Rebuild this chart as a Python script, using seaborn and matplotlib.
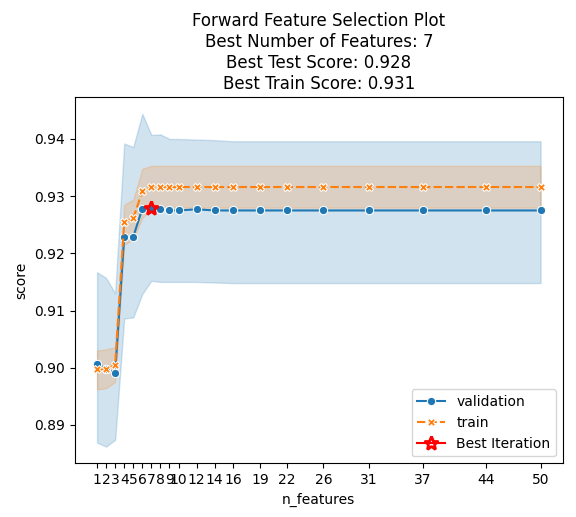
import matplotlib
matplotlib.use("Agg")
import matplotlib.pyplot as plt
from matplotlib.lines import Line2D
import seaborn as sns
import pandas as pd

n_features = [1, 2, 3, 4, 5, 6, 7, 8, 9, 10, 12, 14, 16, 19, 22, 26, 31, 37, 44, 50]
val_score = [0.9007, 0.8998, 0.8991, 0.9229, 0.9229, 0.9278, 0.9280, 0.9277, 0.9275, 0.9275,
             0.9277, 0.9275, 0.9275, 0.9275, 0.9275, 0.9275, 0.9275, 0.9275, 0.9275, 0.9275]
val_lo = [0.8869, 0.8862, 0.8874, 0.9086, 0.9088, 0.9129, 0.9152, 0.9150, 0.9150, 0.9150,
          0.9150, 0.9149, 0.9148, 0.9148, 0.9148, 0.9148, 0.9148, 0.9148, 0.9148, 0.9148]
val_hi = [0.9167, 0.9157, 0.9130, 0.9392, 0.9386, 0.9444, 0.9407, 0.9408, 0.9400, 0.9400,
          0.9399, 0.9398, 0.9396, 0.9396, 0.9396, 0.9396, 0.9396, 0.9396, 0.9396, 0.9396]
train_score = [0.8997, 0.8997, 0.9005, 0.9254, 0.9261, 0.9309, 0.9316, 0.9316, 0.9316, 0.9316,
               0.9316, 0.9316, 0.9316, 0.9316, 0.9316, 0.9316, 0.9316, 0.9316, 0.9316, 0.9316]
train_lo = [0.8962, 0.8964, 0.8975, 0.9215, 0.9225, 0.9262, 0.9279, 0.9280, 0.9280, 0.9280,
            0.9280, 0.9280, 0.9280, 0.9280, 0.9280, 0.9280, 0.9280, 0.9280, 0.9280, 0.9280]
train_hi = [0.9030, 0.9032, 0.9036, 0.9285, 0.9294, 0.9348, 0.9353, 0.9353, 0.9353, 0.9353,
            0.9353, 0.9353, 0.9353, 0.9353, 0.9353, 0.9353, 0.9353, 0.9353, 0.9353, 0.9353]
best_n = 7
best_score = 0.928

df = pd.DataFrame({"n_features": n_features * 2,
                   "score": val_score + train_score,
                   "set": ["validation"] * len(n_features) + ["train"] * len(n_features)})

fig, ax = plt.subplots(figsize=(5.76, 5.17), dpi=100)
sns.lineplot(data=df, x="n_features", y="score", hue="set", style="set",
             markers=True, dashes=True, ax=ax)
ax.fill_between(n_features, val_lo, val_hi, color="C0", alpha=0.2)
ax.fill_between(n_features, train_lo, train_hi, color="C1", alpha=0.2)
ax.plot(best_n, best_score, marker="*", color="red", markersize=10,
        markerfacecolor="none", markeredgewidth=2)
handles, labels = ax.get_legend_handles_labels()
best_handle = Line2D([], [], color="red", marker="*", markersize=10,
                     markerfacecolor="none", markeredgewidth=2)
ax.legend(handles[:2] + [best_handle], ["validation", "train", "Best Iteration"],
          loc="lower right")
ax.set_xticks(n_features)
ax.set_title("Forward Feature Selection Plot\nBest Number of Features: 7\n"
             "Best Test Score: 0.928\nBest Train Score: 0.931")
fig.subplots_adjust(left=0.13, right=0.977, top=0.812, bottom=0.104)
plt.savefig("out.png")
